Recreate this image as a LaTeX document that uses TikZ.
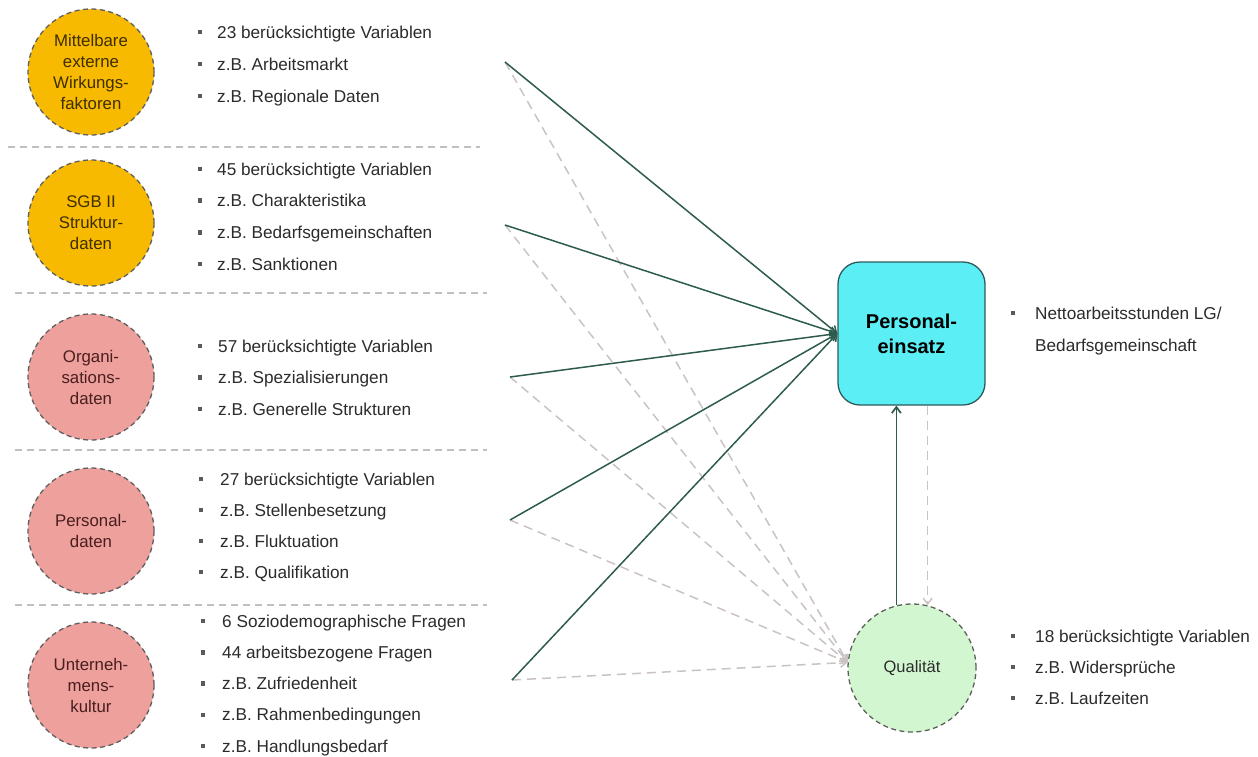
\documentclass[tikz,border=0pt]{standalone}
\usepackage{fontspec}
\setmainfont{Liberation Sans}
\usetikzlibrary{arrows.meta,calc}

\definecolor{facorange}{HTML}{F7BA00}
\definecolor{facpink}{HTML}{EDA09C}
\definecolor{circgray}{HTML}{5F5F5F}
\definecolor{boxcyan}{HTML}{5BEEF5}
\definecolor{boxedge}{HTML}{2E5C5C}
\definecolor{qgreen}{HTML}{D2F7D0}
\definecolor{flowgreen}{HTML}{2D5C4D}
\definecolor{flowgray}{HTML}{CBC3C3}
\definecolor{sepgray}{HTML}{C0C0C0}
\definecolor{itemtext}{HTML}{2B2B2B}
\definecolor{bulgray}{HTML}{5A5A5A}
\definecolor{orangetext}{HTML}{3E2E00}
\definecolor{pinktext}{HTML}{4A1E1E}

\begin{document}
\begin{tikzpicture}[x=1pt,y=-1pt,
  factor/.style={circle, draw=circgray, dash pattern=on 5pt off 3.5pt,
    line width=1.3pt, minimum size=126pt, inner sep=0pt, align=center,
    font=\fontsize{16.8}{21}\selectfont},
  orangefac/.style={factor, fill=facorange, text=orangetext},
  pinkfac/.style={factor, fill=facpink, text=pinktext},
  item/.style={anchor=base west, inner sep=0pt,
    font=\fontsize{17.2}{20}\selectfont, text=itemtext},
  bul/.style={rectangle, fill=bulgray, minimum size=4.5pt, inner sep=0pt},
  sep/.style={draw=sepgray, line width=1.4pt, dash pattern=on 7pt off 5pt},
  inflow/.style={draw=flowgreen, line width=1.5pt,
    -{Straight Barb[length=6pt,width=9pt]}},
  qflow/.style={draw=flowgray, line width=1.5pt, dash pattern=on 9pt off 6pt,
    -{Straight Barb[length=6pt,width=9pt]}}
]
\useasboundingbox (0,0) rectangle (1258,756);

% separators between the factor groups
\draw[sep] (8,147) -- (480,147);
\draw[sep] (15,293) -- (487,293);
\draw[sep] (15,450) -- (487,450);
\draw[sep] (15,605) -- (487,605);

% factor circles
\node[orangefac] (f1) at (91,72)  {Mittelbare\\externe\\Wirkungs-\\faktoren};
\node[orangefac] (f2) at (91,223) {SGB II\\Struktur-\\daten};
\node[pinkfac]   (f3) at (91,377) {Organi-\\sations-\\daten};
\node[pinkfac]   (f4) at (91,531) {Personal-\\daten};
\node[pinkfac]   (f5) at (91,685) {Unterneh-\\mens-\\kultur};

% bullet lists
\foreach \t [count=\i] in {23 berücksichtigte Variablen, z.B. Arbeitsmarkt, z.B. Regionale Daten}{
  \node[bul] (g1b\i) at (200,{32+(\i-1)*32}) {};
  \node[item] (g1t\i) at (217,{38+(\i-1)*32}) {\t};
}
\foreach \t [count=\i] in {45 berücksichtigte Variablen, z.B. Charakteristika, z.B. Bedarfsgemeinschaften, z.B. Sanktionen}{
  \node[bul] (g2b\i) at (200,{169+(\i-1)*31.7}) {};
  \node[item] (g2t\i) at (217,{175+(\i-1)*31.7}) {\t};
}
\foreach \t [count=\i] in {57 berücksichtigte Variablen, z.B. Spezialisierungen, z.B. Generelle Strukturen}{
  \node[bul] (g3b\i) at (200,{346+(\i-1)*31.5}) {};
  \node[item] (g3t\i) at (218,{352+(\i-1)*31.5}) {\t};
}
\foreach \t [count=\i] in {27 berücksichtigte Variablen, z.B. Stellenbesetzung, z.B. Fluktuation, z.B. Qualifikation}{
  \node[bul] (g4b\i) at (201,{479+(\i-1)*31}) {};
  \node[item] (g4t\i) at (220,{485+(\i-1)*31}) {\t};
}
\foreach \t [count=\i] in {6 Soziodemographische Fragen, 44 arbeitsbezogene Fragen, z.B. Zufriedenheit, z.B. Rahmenbedingungen, z.B. Handlungsbedarf}{
  \node[bul] (g5b\i) at (203,{621+(\i-1)*31.25}) {};
  \node[item] (g5t\i) at (222,{627+(\i-1)*31.25}) {\t};
}

% target nodes
\node[draw=boxedge, fill=boxcyan, rounded corners=22pt, line width=1.3pt,
  minimum width=147pt, minimum height=143pt, align=center,
  font=\bfseries\fontsize{20}{25}\selectfont] (pe) at (911.5,333.5) {Personal-\\einsatz};
\node[factor, fill=qgreen, text=itemtext, minimum size=128pt,
  font=\fontsize{16.5}{20}\selectfont] (q) at (912,668) {Qualität};

% lists on the right
\node[bul] (pb1) at (1013,313) {};
\node[item] (pt1) at (1035,319) {Nettoarbeitsstunden LG/};
\node[item] (pt2) at (1035,351) {Bedarfsgemeinschaft};
\foreach \t [count=\i] in {18 berücksichtigte Variablen, z.B. Widersprüche, z.B. Laufzeiten}{
  \node[bul] (qb\i) at (1013,{636+(\i-1)*31}) {};
  \node[item] (qt\i) at (1035,{642+(\i-1)*31}) {\t};
}

% start points of the influence arrows
\coordinate (s1) at (505,62);
\coordinate (s2) at (505,225);
\coordinate (s3) at (510,377);
\coordinate (s4) at (510,520);
\coordinate (s5) at (512,680);

% dashed influences on quality
\foreach \i in {1,...,5}{
  \draw[qflow] (s\i) -- (q.175);
}
% solid influences on staffing
\foreach \i in {1,...,5}{
  \draw[inflow] (s\i) -- (pe.west);
}

% feedback between quality and staffing
\draw[inflow, line width=1.7pt] (q.104) -- (q.104 |- pe.south);
\draw[qflow] (pe.south -| q.76) -- (q.76);
\end{tikzpicture}
\end{document}
